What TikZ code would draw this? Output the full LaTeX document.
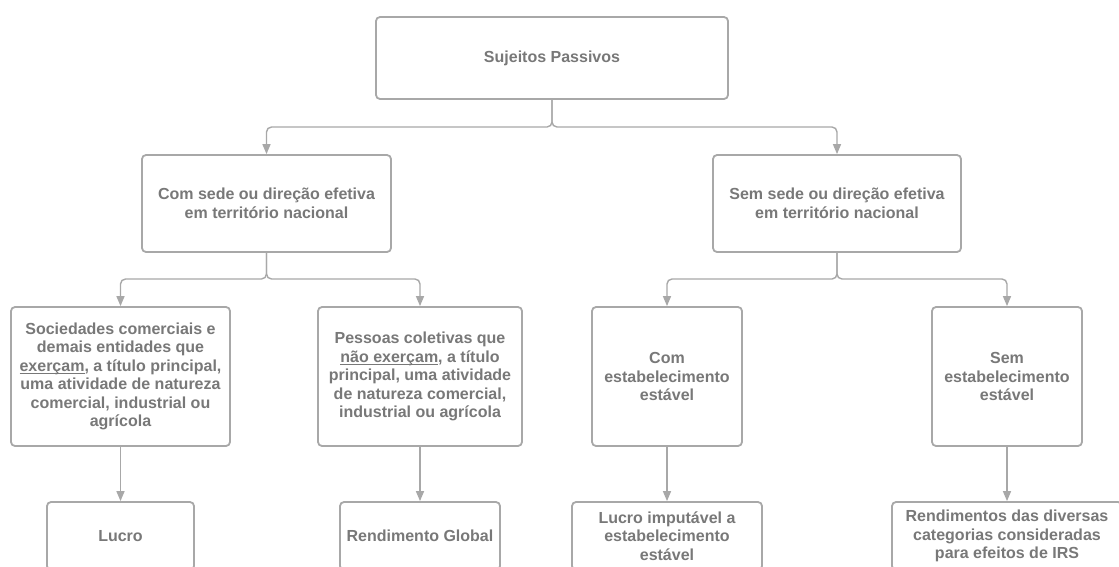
\documentclass[tikz,border=0pt]{standalone}
\usepackage{fontspec}
\setmainfont{Liberation Sans}
\usetikzlibrary{arrows.meta}
\definecolor{linegray}{HTML}{A8A8A8}
\definecolor{textgray}{HTML}{787878}
\newcommand{\sublin}[1]{\setbox0\hbox{#1}\rlap{\rule[-2.6pt]{\wd0}{1.1pt}}\box0}
\tikzset{pbox/.style={draw=linegray, line width=1.8pt, rounded corners=4pt,
  align=center, text=textgray, inner sep=0pt,
  font=\bfseries\fontsize{16}{18.5}\selectfont},
  link/.style={draw=linegray, line width=1.4pt, rounded corners=5pt,
  -{Triangle[length=10pt,width=8pt]}}}

\begin{document}
\begin{tikzpicture}[x=1pt,y=-1pt]
  \useasboundingbox (0,0) rectangle (1119,566);
  \clip (0,0) rectangle (1119,566);
  \fill[white] (0,0) rectangle (1119,566);
  % top
  \node[pbox, minimum width=352pt, minimum height=82pt] (sp) at (552,58) {Sujeitos Passivos};
  % second row
  \node[pbox, minimum width=249pt, minimum height=97pt] (com) at (266.5,203.5)
    {Com sede ou direção efetiva\\em território nacional};
  \node[pbox, minimum width=248pt, minimum height=97pt] (sem) at (837,203.5)
    {Sem sede ou direção efetiva\\em território nacional};
  % third row
  \node[pbox, minimum width=219pt, minimum height=139pt] (soc) at (120.5,376.5)
    {Sociedades comerciais e\\demais entidades que\\\sublin{exerçam}, a título principal,\\uma atividade de natureza\\comercial, industrial ou\\agrícola};
  \node[pbox, minimum width=204pt, minimum height=139pt] (pes) at (420,376.5)
    {Pessoas coletivas que\\\sublin{não exerçam}, a título\\principal, uma atividade\\de natureza comercial,\\industrial ou agrícola};
  \node[pbox, minimum width=150pt, minimum height=139pt] (cest) at (667,376.5)
    {Com\\estabelecimento\\estável};
  \node[pbox, minimum width=150pt, minimum height=139pt] (sest) at (1007,376.5)
    {Sem\\estabelecimento\\estável};
  % bottom row (cut by the page edge)
  \node[pbox, minimum width=147pt, minimum height=68pt] (lucro) at (120.5,536) {Lucro};
  \node[pbox, minimum width=160pt, minimum height=68pt] (rglob) at (420,536) {Rendimento Global};
  \node[pbox, minimum width=190pt, minimum height=68pt] (limp) at (667,536)
    {Lucro imputável a\\estabelecimento\\estável};
  \node[pbox, minimum width=230pt, minimum height=68pt] (rdiv) at (1007,536)
    {Rendimentos das diversas\\categorias consideradas\\para efeitos de IRS};
  % forks
  \coordinate (j1) at (552,127);
  \coordinate (j2) at (266.5,279);
  \coordinate (j3) at (837,279);
  \draw[link] (sp.south) -- (j1) -| (com.north);
  \draw[link] (sp.south) -- (j1) -| (sem.north);
  \draw[link] (com.south) -- (j2) -| (soc.north);
  \draw[link] (com.south) -- (j2) -| (pes.north);
  \draw[link] (sem.south) -- (j3) -| (cest.north);
  \draw[link] (sem.south) -- (j3) -| (sest.north);
  % straight down
  \draw[link] (soc.south) -- (lucro.north);
  \draw[link] (pes.south) -- (rglob.north);
  \draw[link] (cest.south) -- (limp.north);
  \draw[link] (sest.south) -- (rdiv.north);
\end{tikzpicture}
\end{document}
